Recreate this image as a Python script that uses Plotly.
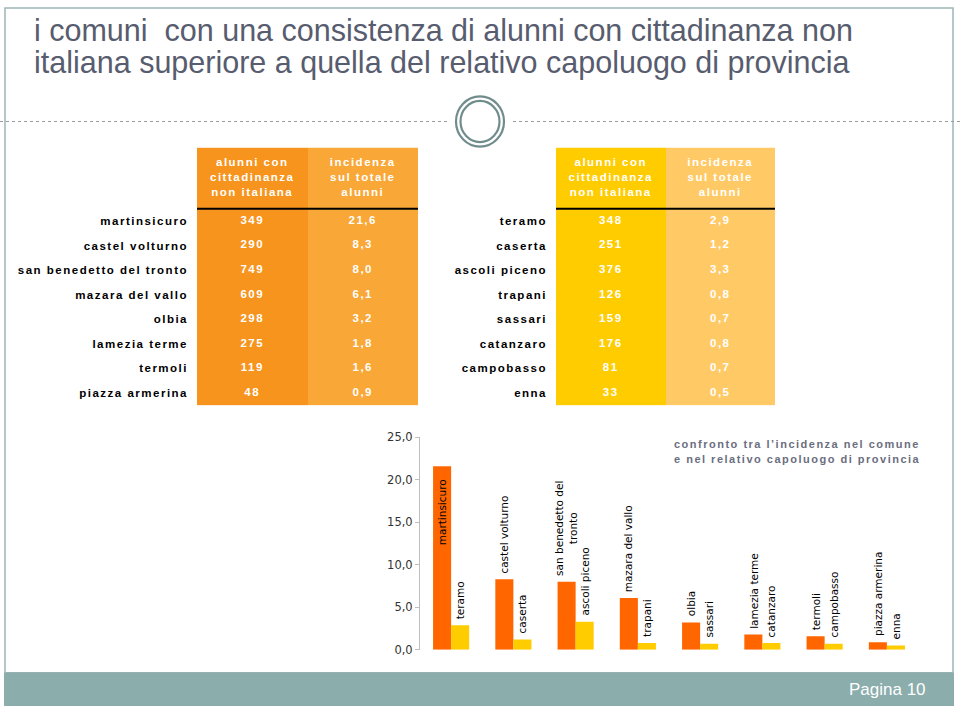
import plotly.graph_objects as go

# ---------------- data ----------------
comuni = ["martinsicuro", "castel volturno", "san benedetto del tronto", "mazara del vallo",
          "olbia", "lamezia terme", "termoli", "piazza armerina"]
alunni_comune = [349, 290, 749, 609, 298, 275, 119, 48]
incidenza_comune = [21.6, 8.3, 8.0, 6.1, 3.2, 1.8, 1.6, 0.9]

capoluoghi = ["teramo", "caserta", "ascoli piceno", "trapani", "sassari", "catanzaro",
              "campobasso", "enna"]
alunni_capoluogo = [348, 251, 376, 126, 159, 176, 81, 33]
incidenza_capoluogo = [2.9, 1.2, 3.3, 0.8, 0.7, 0.8, 0.7, 0.5]

header_alunni = "alunni con<br>cittadinanza<br>non italiana"
header_incidenza = "incidenza<br>sul totale<br>alunni"
y_ticks = [0, 5, 10, 15, 20, 25]

title_lines = ["i comuni  con una consistenza di alunni con cittadinanza non",
               "italiana superiore a quella del relativo capoluogo di provincia"]
caption_lines = ["confronto tra l’incidenza nel comune",
                 "e nel relativo capoluogo di provincia"]
bar_labels_comune = ["martinsicuro", "castel volturno", "san benedetto del<br>tronto",
                     "mazara del vallo", "olbia", "lamezia terme", "termoli", "piazza armerina"]

# ---------------- style ----------------
W = 960
FIG_H = 716
SCALE_Y = 0.978   # vertical mapping of the photographed page
OFF_Y = 7.8
ORANGE_1, ORANGE_2 = "#F7941D", "#F9A737"
YELLOW_1, YELLOW_2 = "#FFCC00", "#FFCA66"
BAR_C, BAR_P = "#FF6600", "#FFCC00"
TFONT = "Liberation Sans"
TSIZE = 11.5
ROW_PX = 24.5
HEAD_PX = 61
HEAD_U = HEAD_PX / ROW_PX


def px(x):
    return x / W


def py(y):
    return 1 - ((y - OFF_Y) / SCALE_Y) / FIG_H


def spaced(t, sp=1.5):
    return "<br>".join(f'<span style="letter-spacing:{sp}px">{p}</span>' for p in t.split("<br>"))


def bold(t, sp=1.5):
    return f"<b>{spaced(t, sp)}</b>"


def dec(v):
    return f"{v:.1f}".replace(".", ",")


fig = go.Figure()


# ---------------- tables (heatmap cells on their own axes) ----------------
def add_table(labels, alunni, inc, xa, ya, c1, c2):
    n = len(labels)
    y_edges = [-0.5 - HEAD_U] + [i - 0.5 for i in range(n + 1)]
    fig.add_trace(go.Heatmap(
        x=[0, 1, 2], y=y_edges, z=[[0, 1] for _ in range(n + 1)],
        colorscale=[[0, c1], [1, c2]], zmin=0, zmax=1, showscale=False,
        hoverinfo="skip", xaxis=xa, yaxis=ya,
    ))
    rows = list(range(n))
    tf = dict(family=TFONT, size=TSIZE, color="white")
    fig.add_trace(go.Scatter(x=[0.5] * n, y=rows, mode="text", text=[bold(str(v)) for v in alunni],
                             textfont=tf, textposition="middle center", hoverinfo="skip",
                             xaxis=xa, yaxis=ya, showlegend=False))
    fig.add_trace(go.Scatter(x=[1.5] * n, y=rows, mode="text", text=[bold(dec(v)) for v in inc],
                             textfont=tf, textposition="middle center", hoverinfo="skip",
                             xaxis=xa, yaxis=ya, showlegend=False))
    hy = -0.5 - HEAD_U / 2
    fig.add_trace(go.Scatter(x=[0.5, 1.5], y=[hy, hy], mode="text",
                             text=[bold(header_alunni), bold(header_incidenza)],
                             textfont=tf, textposition="middle center", hoverinfo="skip",
                             xaxis=xa, yaxis=ya, showlegend=False))


add_table(comuni, alunni_comune, incidenza_comune, "x2", "y2", ORANGE_1, ORANGE_2)
add_table(capoluoghi, alunni_capoluogo, incidenza_capoluogo, "x3", "y3", YELLOW_1, YELLOW_2)

tab_y = [py(405), py(148)]
table_x_axis = dict(range=[0, 2], showticklabels=False, showgrid=False, zeroline=False,
                    showline=False, ticks="", fixedrange=True)


def table_y_axis(labels, anchor):
    return dict(domain=tab_y, range=[len(labels) - 0.5, -0.5 - HEAD_U], anchor=anchor,
                tickvals=list(range(len(labels))), ticktext=[bold(s) for s in labels],
                tickfont=dict(family=TFONT, size=TSIZE, color="black"),
                showgrid=False, zeroline=False, showline=False, ticks="",
                ticklabelstandoff=8, fixedrange=True)


# ---------------- bar chart ----------------
fig.add_trace(go.Bar(x=comuni, y=incidenza_comune, marker=dict(color=BAR_C, line=dict(width=0)),
                     showlegend=False, hoverinfo="skip"))
fig.add_trace(go.Bar(x=comuni, y=incidenza_capoluogo, marker=dict(color=BAR_P, line=dict(width=0)),
                     showlegend=False, hoverinfo="skip"))

BARGAP = 0.42
off = (1 - BARGAP) / 4
lab_font = dict(family="DejaVu Sans", size=10.5, color="black")
for i, (lc, lp, vc, vp) in enumerate(zip(bar_labels_comune, capoluoghi, incidenza_comune, incidenza_capoluogo)):
    if vc > 15:
        fig.add_annotation(x=i - off, y=vc, xref="x", yref="y", text=lc, textangle=-90,
                           showarrow=False, xanchor="center", yanchor="top", yshift=-11, font=lab_font)
    else:
        fig.add_annotation(x=i - off, y=vc, xref="x", yref="y", text=lc, textangle=-90,
                           showarrow=False, xanchor="center", yanchor="bottom", yshift=4, font=lab_font)
    fig.add_annotation(x=i + off, y=vp, xref="x", yref="y", text=lp, textangle=-90,
                       showarrow=False, xanchor="center", yanchor="bottom", yshift=4, font=lab_font)

fig.update_layout(
    barmode="group", bargap=BARGAP, bargroupgap=0,
    separators=",.",
    xaxis=dict(domain=[px(420), px(918)], range=[-0.5, 7.5], showticklabels=False,
               showline=False, showgrid=False, zeroline=False, ticks="", fixedrange=True),
    yaxis=dict(domain=[py(649), py(437)], range=[0, 25], tickvals=y_ticks, tickformat=".1f",
               showline=True, linecolor="#BFBFBF", linewidth=1, ticks="outside", ticklen=4,
               tickcolor="#BFBFBF", showgrid=False, zeroline=False, fixedrange=True,
               tickfont=dict(family="DejaVu Sans", size=11.5, color="#333333")),
    xaxis2=dict(domain=[px(197), px(418)], anchor="y2", **table_x_axis),
    yaxis2=table_y_axis(comuni, "x2"),
    xaxis3=dict(domain=[px(556), px(775)], anchor="y3", **table_x_axis),
    yaxis3=table_y_axis(capoluoghi, "x3"),
)

# ---------------- decorations ----------------
shapes = []
shapes.append(dict(type="rect", xref="paper", yref="paper", x0=px(5), x1=px(953), y0=py(672), y1=py(8.8),
                   line=dict(color="#9DB5B4", width=1.5), fillcolor="rgba(0,0,0,0)", layer="below"))
shapes.append(dict(type="rect", xref="paper", yref="paper", x0=px(4), x1=px(954), y0=py(705), y1=py(672),
                   line=dict(width=0), fillcolor="#8BADAC", layer="below"))
for a, b in [(0, 447), (513, 960)]:
    shapes.append(dict(type="line", xref="paper", yref="paper", x0=px(a), x1=px(b), y0=py(122), y1=py(122),
                       line=dict(color="#9A9A9A", width=1, dash="dot")))
for rx, ry in [(24, 25), (19.5, 20.5)]:
    shapes.append(dict(type="circle", xref="paper", yref="paper", x0=px(480 - rx), x1=px(480 + rx),
                       y0=py(122 + ry), y1=py(122 - ry), line=dict(color="#708C8C", width=2.2)))
for xr, yr in [("x2", "y2"), ("x3", "y3")]:
    shapes.append(dict(type="line", xref=xr, yref=yr, x0=0, x1=2, y0=-0.5, y1=-0.5,
                       line=dict(color="black", width=2)))
fig.update_layout(shapes=shapes)

for t, yy in zip(title_lines, [31, 63]):
    fig.add_annotation(xref="paper", yref="paper", x=px(32), y=py(yy), text=t, showarrow=False,
                       xanchor="left", yanchor="middle",
                       font=dict(family="Liberation Sans", size=30.5, color="#575C6E"))
for t, yy in zip(caption_lines, [444, 459]):
    fig.add_annotation(xref="paper", yref="paper", x=px(797), y=py(yy), text=bold(t, 1.5),
                       showarrow=False, xanchor="center", yanchor="middle",
                       font=dict(family="Liberation Sans", size=11, color="#6B6E80"))
fig.add_annotation(xref="paper", yref="paper", x=px(928), y=py(689), text="Pagina 10", showarrow=False,
                   xanchor="right", yanchor="middle",
                   font=dict(family="Liberation Sans", size=17, color="white"))

fig.update_layout(width=W, height=FIG_H, margin=dict(l=0, r=0, t=0, b=0),
                  paper_bgcolor="white", plot_bgcolor="rgba(0,0,0,0)", showlegend=False)

reset_css = ("var s=document.createElement('style');"
             "s.textContent='html,body{margin:0;padding:0;overflow:hidden}';"
             "document.head.appendChild(s);")
fig.write_html("out.html", config={"displayModeBar": False}, post_script=reset_css)
